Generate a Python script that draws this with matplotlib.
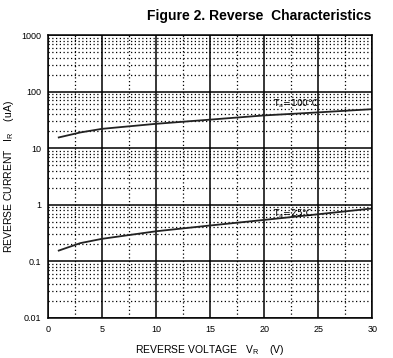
import numpy as np
import matplotlib.pyplot as plt
from matplotlib.ticker import FixedLocator, NullFormatter

plt.rcParams['font.family'] = ['Liberation Sans', 'DejaVu Sans']

# curve data
volts = [1, 3, 5, 10, 15, 20, 25, 30]
ir_100c = [15.5, 19, 22, 27, 32, 38, 43, 49]
ir_25c = [0.155, 0.21, 0.25, 0.34, 0.43, 0.54, 0.68, 0.86]

x_ticks = [0, 5, 10, 15, 20, 25, 30]
y_ticks = [0.01, 0.1, 1, 10, 100, 1000]
y_labels = ['0.01', '0.1', '1', '10', '100', '1000']

fig = plt.figure(figsize=(3.93, 3.58), dpi=100)
ax = fig.add_axes([0.122, 0.112, 0.825, 0.79])

ax.set_yscale('log')
ax.set_xlim(0, 30)
ax.set_ylim(0.01, 1000)

ax.xaxis.set_major_locator(FixedLocator(x_ticks))
ax.xaxis.set_minor_locator(FixedLocator(np.arange(2.5, 30, 5)))
ax.yaxis.set_major_locator(FixedLocator(y_ticks))
ax.set_yticklabels(y_labels)
minors = [m * 10.0 ** e for e in range(-2, 3) for m in range(2, 10)]
ax.yaxis.set_minor_locator(FixedLocator(minors))
ax.yaxis.set_minor_formatter(NullFormatter())

ax.grid(which='major', color='black', lw=1.1, ls='-')
ax.grid(which='minor', color='black', lw=0.9, ls=(0, (1, 2)))
ax.tick_params(which='both', length=0, labelsize=6.5, pad=5)
for s in ax.spines.values():
    s.set_linewidth(1.1)

ax.plot(volts, ir_100c, color='#222222', lw=1.3)
ax.plot(volts, ir_25c, color='#222222', lw=1.3)

lbl_font = ['DejaVu Sans']
ax.text(20.8, 61, r'T$_\mathregular{a}$=100℃', fontsize=6.5, va='center', family=lbl_font)
ax.text(20.8, 0.69, r'T$_\mathregular{a}$=25℃', fontsize=6.5, va='center', family=lbl_font)

ax.set_xlabel(r'REVERSE VOLTAGE   V$_\mathregular{R}$    (V)', fontsize=7.5)
ax.set_ylabel(r'REVERSE CURRENT   I$_\mathregular{R}$    (uA)', fontsize=7.5)
ax.xaxis.set_label_coords(0.5, -0.09)
ax.yaxis.set_label_coords(-0.1, 0.5)
fig.text(0.66, 0.955, 'Figure 2. Reverse  Characteristics', fontsize=10,
         fontweight='bold', ha='center', va='center')

fig.savefig('out.png', dpi=100)
